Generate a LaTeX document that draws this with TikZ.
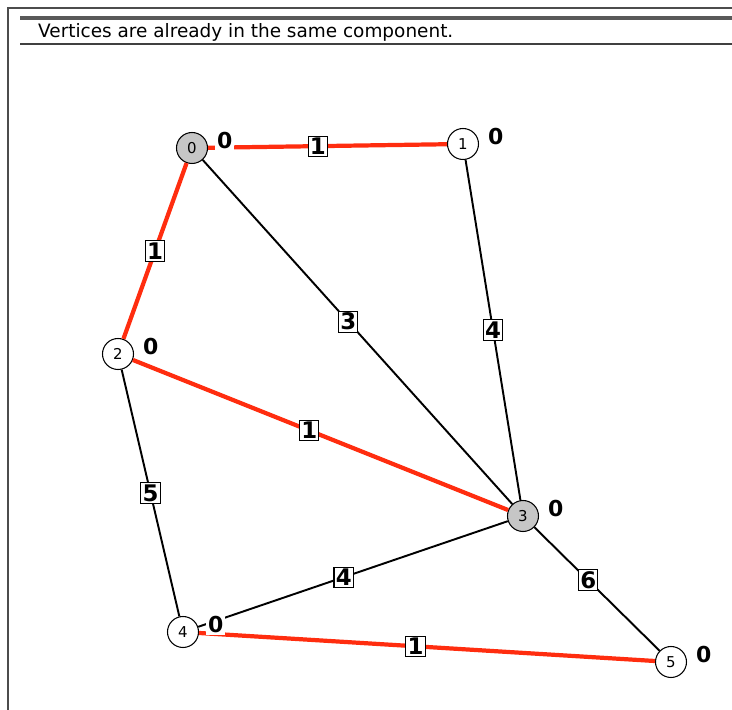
\documentclass[tikz,border=0pt]{standalone}
\usepackage{fontspec}
\setmainfont{DejaVu Sans}
\usetikzlibrary{positioning}
\definecolor{rouge}{RGB}{255,45,15}

\begin{document}
\begin{tikzpicture}[x=0.2mm, y=-0.2mm,
    sommet/.style={circle, draw, line width=0.6pt, fill=white, minimum size=6.2mm, inner sep=0pt, font=\fontsize{8.5}{9}\selectfont},
    visite/.style={sommet, fill=gray!45},
    arete/.style={line width=1.1pt, black},
    arbre/.style={line width=2.4pt, rouge},
    poids/.style={draw=black, text=black, fill=white, line width=0.6pt, inner sep=1pt, font=\bfseries\fontsize{13}{13}\selectfont},
    cout/.style={fill=white, inner sep=1pt, font=\bfseries\fontsize{12.5}{12.5}\selectfont}]

    \useasboundingbox (0,0) rectangle (732,710);

    % Cadre et message
    \draw[line width=1pt, black!70] (8,710) -- (8,8) -- (732,8);
    \draw[line width=1.8pt, black!65] (20,18) -- (732,18);
    \draw[line width=0.8pt, black!75] (20,44) -- (732,44);
    \node[anchor=west, font=\fontsize{10.5}{11}\selectfont] (msg) at (32,32) {Vertices are already in the same component.};

    % Sommets
    \node[visite] (n0) at (192,148) {0};
    \node[sommet] (n1) at (463,144) {1};
    \node[sommet] (n2) at (118,354) {2};
    \node[visite] (n3) at (523,516) {3};
    \node[sommet] (n4) at (183,632) {4};
    \node[sommet] (n5) at (671,662) {5};

    % Aretes
    \draw[arete] (n0) -- node[poids, pos=0.47] {3} (n3);
    \draw[arete] (n1) -- node[poids, pos=0.5] {4} (n3);
    \draw[arete] (n2) -- node[poids, pos=0.5] {5} (n4);
    \draw[arete] (n3) -- node[poids, pos=0.53] {4} (n4);
    \draw[arete] (n3) -- node[poids, pos=0.43] {6} (n5);

    % Aretes de l'arbre
    \draw[arbre] (n0) -- node[poids, pos=0.46] {1} (n1);
    \draw[arbre] (n0) -- node[poids, pos=0.5] {1} (n2);
    \draw[arbre] (n2) -- node[poids, pos=0.47] {1} (n3);
    \draw[arbre] (n4) -- node[poids, pos=0.475] {1} (n5);

    % Couts
    \foreach \i in {0,...,5}
        \node[cout, anchor=west] (c\i) at ([shift={(7,-7)}]n\i.east) {0};

\end{tikzpicture}
\end{document}
